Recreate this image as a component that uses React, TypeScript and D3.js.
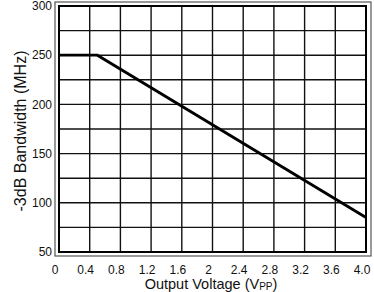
import React, { useEffect, useRef } from "react";
import * as d3 from "d3";

const VOLTS = [0, 0.5, 4.0];
const BANDWIDTH = [250, 250, 85];
const X_TICKS = [0, 0.4, 0.8, 1.2, 1.6, 2, 2.4, 2.8, 3.2, 3.6, 4.0];
const X_TICK_LABELS = ["0", "0.4", "0.8", "1.2", "1.6", "2", "2.4", "2.8", "3.2", "3.6", "4.0"];
const Y_TICKS = [50, 100, 150, 200, 250, 300];
const Y_GRID = [50, 75, 100, 125, 150, 175, 200, 225, 250, 275, 300];

const W = 374;
const H = 292;
const PLOT = { left: 59, right: 366, top: 6, bottom: 252 };
const FONT = "'Liberation Sans', Arial, sans-serif";

const App = () => {
  const svgRef = useRef<SVGSVGElement>(null);

  useEffect(() => {
    const svg = d3.select(svgRef.current);
    svg.selectAll("*").remove();

    const x = d3.scaleLinear().domain([0, 4]).range([PLOT.left, PLOT.right]);
    const y = d3.scaleLinear().domain([50, 300]).range([PLOT.bottom, PLOT.top]);

    // outer frame
    svg
      .append("rect")
      .attr("x", PLOT.left - 4)
      .attr("y", PLOT.top - 4)
      .attr("width", PLOT.right - PLOT.left + 9)
      .attr("height", PLOT.bottom - PLOT.top + 8)
      .attr("fill", "none")
      .attr("stroke", "#555")
      .attr("stroke-width", 1.2);

    // grid
    svg
      .append("g")
      .selectAll("line")
      .data(X_TICKS)
      .join("line")
      .attr("x1", (d) => x(d))
      .attr("x2", (d) => x(d))
      .attr("y1", PLOT.top)
      .attr("y2", PLOT.bottom)
      .attr("stroke", "#111")
      .attr("stroke-width", 1.4);

    svg
      .append("g")
      .selectAll("line")
      .data(Y_GRID)
      .join("line")
      .attr("x1", PLOT.left)
      .attr("x2", PLOT.right)
      .attr("y1", (d) => y(d))
      .attr("y2", (d) => y(d))
      .attr("stroke", "#111")
      .attr("stroke-width", 1.4);

    // inner frame
    svg
      .append("rect")
      .attr("x", PLOT.left)
      .attr("y", PLOT.top)
      .attr("width", PLOT.right - PLOT.left)
      .attr("height", PLOT.bottom - PLOT.top)
      .attr("fill", "none")
      .attr("stroke", "#000")
      .attr("stroke-width", 2);

    // data line
    const line = d3
      .line<number>()
      .x((d) => x(d))
      .y((_, i) => y(BANDWIDTH[i]));

    svg
      .append("path")
      .datum(VOLTS)
      .attr("fill", "none")
      .attr("stroke", "#000")
      .attr("stroke-width", 2.8)
      .attr("d", line);

    // y tick labels
    svg
      .append("g")
      .selectAll("text")
      .data(Y_TICKS)
      .join("text")
      .attr("x", PLOT.left - 7)
      .attr("y", (d) => y(d))
      .attr("dy", "0.35em")
      .attr("text-anchor", "end")
      .attr("font-family", FONT)
      .attr("font-size", 12)
      .attr("fill", "#111")
      .text((d) => d);

    // x tick labels (sit slightly left of the gridlines in the original)
    svg
      .append("g")
      .selectAll("text")
      .data(X_TICKS)
      .join("text")
      .attr("x", (d) => x(d) - 4)
      .attr("y", 274)
      .attr("text-anchor", "middle")
      .attr("font-family", FONT)
      .attr("font-size", 12)
      .attr("fill", "#111")
      .text((_, i) => X_TICK_LABELS[i]);

    // axis titles
    const xt = svg
      .append("text")
      .attr("x", 211)
      .attr("y", 288.5)
      .attr("text-anchor", "middle")
      .attr("font-family", FONT)
      .attr("font-size", 14.5)
      .attr("fill", "#111");
    xt.append("tspan").text("Output Voltage (V");
    xt.append("tspan").attr("font-size", 10).attr("dy", 1).text("PP");
    xt.append("tspan").attr("dy", -1).text(")");

    svg
      .append("text")
      .attr("transform", `translate(26,131) rotate(-90)`)
      .attr("text-anchor", "middle")
      .attr("font-family", FONT)
      .attr("font-size", 16)
      .attr("fill", "#111")
      .text("-3dB Bandwidth (MHz)");
  }, []);

  return (
    <svg
      ref={svgRef}
      width={W}
      height={H}
      style={{ position: "absolute", left: 0, top: 0, background: "#fff" }}
    />
  );
};

export default App;
